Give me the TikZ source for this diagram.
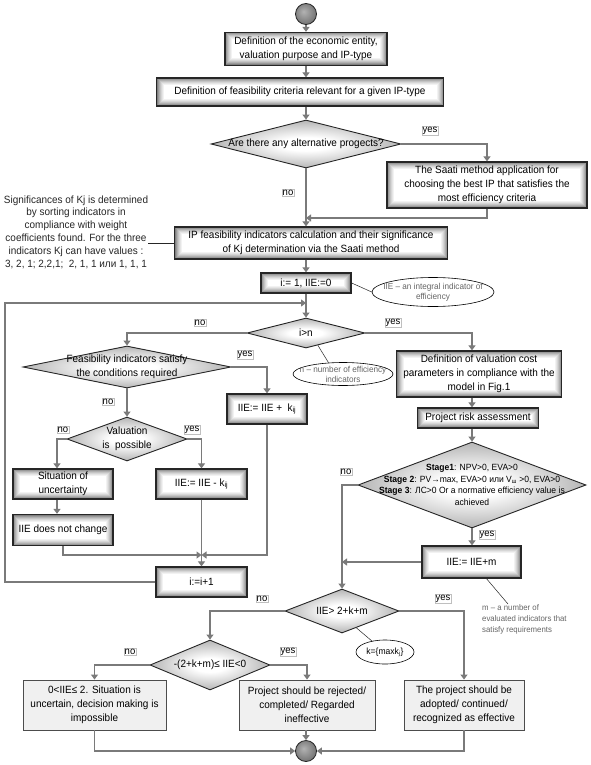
\documentclass[tikz,border=0pt]{standalone}
\usepackage{fontspec}
\setmainfont[FakeStretch=0.95]{Liberation Sans}
\usetikzlibrary{shapes.geometric,arrows.meta,calc}
\pgfdeclareradialshading{dglow}{\pgfpoint{0bp}{0bp}}{color(0bp)=(white); color(7bp)=(white); color(35bp)=(black!45); color(50bp)=(black!55)}
\pgfdeclareradialshading{cglow}{\pgfpoint{-6bp}{6bp}}{color(0bp)=(black!30); color(28bp)=(black!55); color(50bp)=(black!78)}
\begin{document}
\begin{tikzpicture}[x=1pt,y=-1pt,
  every node/.style={font=\fontsize{10.5}{14}\selectfont},
  conn/.style={draw=black!52, line width=1.7pt, -{Triangle[width=7pt,length=5pt]}},
  notel/.style={draw=black!85, line width=0.5pt},
  glowbox/.style={rectangle, draw=black!85, line width=1.3pt, inner sep=1pt, align=center,
    path picture={\foreach \d/\c in {0/50,1/40,2/31,3/23,4/16,5/10,6/5,7/0}{%
      \fill[black!\c] ([shift={(\d pt,\d pt)}]path picture bounding box.south west) rectangle ([shift={(-\d pt,-\d pt)}]path picture bounding box.north east);}}},
  pbox/.style={rectangle, draw=black!70, line width=0.9pt, fill=black!6, align=center, inner sep=1pt},
  dia/.style={diamond, draw=black!85, line width=0.9pt, shade, shading=dglow, inner sep=0pt},
  dtext/.style={align=center, inner sep=0pt},
  ell/.style={ellipse, draw=black, line width=0.6pt, fill=white, inner sep=0pt, align=center, text=black!60},
  elltext/.style={font=\fontsize{8.6}{10}\selectfont},
  lbl/.style={draw=black!25, line width=0.4pt, fill=white, inner sep=0.8pt, font=\fontsize{10}{11}\selectfont},
  notet/.style={align=center, inner sep=0pt, text=black!85, font=\fontsize{10.5}{12.8}\selectfont},
  roundc/.style={circle, minimum size=21pt, inner sep=0pt, draw=black!85, line width=0.8pt, shade, shading=cglow}
]
\path[use as bounding box, fill=white] (0,0) rectangle (590,765);

% nodes
\node[roundc] (start) at (306,14) {};
\node[glowbox, minimum width=162pt, minimum height=33pt] (b1) at (306,49) {Definition of the economic entity,\\valuation purpose and IP-type};
\node[glowbox, minimum width=287pt, minimum height=28pt] (b2) at (300,92) {Definition of feasibility criteria relevant for a given IP-type};
\node[dia, minimum width=190pt, minimum height=48pt] (d1) at (306,144) {};
\node[dtext] (d1t) at (d1) {Are there any alternative progects?};
\node[glowbox, minimum width=200pt, minimum height=46pt] (saati) at (487,185) {The Saati method application for\\choosing the best IP that satisfies the\\most efficiency criteria};
\node[glowbox, minimum width=273pt, minimum height=32pt] (ip) at (311,243) {IP feasibility indicators calculation and their significance\\of Kj determination via the Saati method};
\node[notet] (note) at (76,232) {Significances of Kj is determined\\by sorting indicators in\\compliance with weight\\coefficients found. For the three\\indicators Kj can have values :\\3, 2, 1; 2,2,1;~ 2, 1, 1 или 1, 1, 1};
\node[glowbox, minimum width=90pt, minimum height=20pt] (i1) at (306,283) {i:= 1, IIE:=0};
\node[ell, minimum width=122pt, minimum height=29pt] (e1) at (433,292) {};
\node[elltext, align=center, text=black!60, inner sep=0pt] (e1t) at (e1) {IIE – an integral indicator of\\efficiency};
\node[dia, minimum width=118pt, minimum height=30pt] (d2) at (306,333) {};
\node[dtext] (d2t) at (d2) {i>n};
\node[ell, minimum width=100pt, minimum height=23pt] (e2) at (343,374) {};
\node[elltext, align=center, text=black!60, inner sep=0pt] (e2t) at (e2) {n – number of efficiency\\indicators};
\node[dia, minimum width=208pt, minimum height=42pt] (d3) at (127,367) {};
\node[dtext] (d3t) at (d3) {Feasibility indicators satisfy\\the conditions required};
\node[glowbox, minimum width=80pt, minimum height=30pt] (bpk) at (267,409) {IIE:= IIE +~~k\textsubscript{ij}};
\node[dia, minimum width=120pt, minimum height=44pt] (d4) at (127,439) {};
\node[dtext] (d4t) at (d4) {Valuation\\is~~possible};
\node[glowbox, minimum width=100pt, minimum height=30pt] (sit) at (63,484) {Situation of\\uncertainty};
\node[glowbox, minimum width=91pt, minimum height=30pt] (bmk) at (201.5,484) {IIE:= IIE - k\textsubscript{ij}};
\node[glowbox, minimum width=100pt, minimum height=31pt] (nochg) at (63,530) {IIE does not change};
\node[glowbox, minimum width=91pt, minimum height=30pt] (inc) at (201.5,582) {i:=i+1};
\node[glowbox, minimum width=165pt, minimum height=46pt] (val) at (479,374) {Definition of valuation cost\\parameters in compliance with the\\model in Fig.1};
\node[glowbox, minimum width=121pt, minimum height=20pt] (risk) at (478,418) {Project risk assessment};
\node[dia, minimum width=228pt, minimum height=86pt] (ds) at (472,485) {};
\node[dtext, font=\fontsize{9}{11.5}\selectfont] (dst) at (ds) {\textbf{Stage1}: NPV>0, EVA>0\\\textbf{Stage 2}: PV→max, EVA>0 или V\textsubscript{ш} >0, EVA>0\\\textbf{Stage 3}: ЛС>0 Or a normative efficiency value is\\achieved};
\node[glowbox, minimum width=99pt, minimum height=32pt] (m) at (471.5,562) {IIE:= IIE+m};
\node[dia, minimum width=114pt, minimum height=44pt] (d5) at (342,611) {};
\node[dtext] (d5t) at (d5) {IIE> 2+k+m};
\node[ell, minimum width=58pt, minimum height=24pt, font=\fontsize{9}{10}\selectfont, text=black] (e3) at (385,652) {k=\{maxk\textsubscript{j}\}};
\node[align=left, inner sep=0pt, anchor=north west, text=black!60, font=\fontsize{8.2}{11}\selectfont] (mnote) at (482,604) {m – a number of\\evaluated indicators that\\satisfy requirements};
\node[dia, minimum width=120pt, minimum height=50pt] (d6) at (210,665) {};
\node[dtext] (d6t) at (d6) {-(2+k+m)≤ IIE<0};
\node[pbox, minimum width=143pt, minimum height=50pt] (bl) at (94.5,705) {0<IIE≤ 2. Situation is\\uncertain, decision making is\\impossible};
\node[pbox, minimum width=136pt, minimum height=50pt] (bm) at (307,705) {Project should be rejected/\\completed/ Regarded\\ineffective};
\node[pbox, minimum width=120pt, minimum height=50pt] (br) at (464,705) {The project should be\\adopted/ continued/\\recognized as effective};
\node[roundc] (fin) at (306,751) {};

% labels
\node[lbl] (y1) at (430,131) {yes};
\node[lbl] (n1) at (288,193) {no};
\node[lbl] (n2) at (200,323) {no};
\node[lbl] (y2) at (393,323) {yes};
\node[lbl] (y3) at (245,355) {yes};
\node[lbl] (n3) at (108,402) {no};
\node[lbl] (n4) at (63,430) {no};
\node[lbl] (y4) at (192,430) {yes};
\node[lbl] (n5) at (346,472) {no};
\node[lbl] (y5) at (487,535) {yes};
\node[lbl] (n6) at (262,599) {no};
\node[lbl] (y6) at (443,599) {yes};
\node[lbl] (n7) at (130,652) {no};
\node[lbl] (y7) at (288,652) {yes};

% coordinates
\coordinate (j1) at (306,218);
\coordinate (lp) at (5,303);
\coordinate (lpe) at (306,303);
\coordinate (mrg) at (201.5,555);

% connectors
\draw[conn] (start.south) -- (b1.north);
\draw[conn] (b1.south) -- (b1.south |- b2.north);
\draw[conn] (b2.south -| d1.north) -- (d1.north);
\draw[conn] (d1.east) -| (saati.north);
\draw[conn] (d1.south) -- (d1.south |- ip.north);
\draw[conn] (saati.south) |- (j1);
\draw[notel] (ip.west) -- (ip.west -| note.east);
\draw[conn] (ip.south -| i1.north) -- (i1.north);
\draw[notel] (i1.east) -- (e1.west);
\draw[conn] (i1.south) -- (d2.north);
\draw[conn] (inc.west) -- (inc.west -| lp) -- (lp) -- (lpe);
\draw[conn] (d2.west) -| (d3.north);
\draw[conn] (d2.east) -| (val.north -| ds.north);
\draw[notel] ($(d2.south)!0.2!(d2.east)$) -- (e2.142);
\draw[conn] (d3.east) -| (bpk.north);
\draw[conn] (d3.south) -- (d4.north);
\draw[conn] (d4.west) -| ([xshift=-6pt]sit.north);
\draw[conn] (d4.east) -| (bmk.north);
\draw[conn] ([xshift=-6pt]sit.south) -- ([xshift=-6pt]nochg.north);
\draw[conn] (nochg.south) |- (mrg);
\draw[conn] (bpk.south) |- (mrg);
\draw[conn] (bmk.south) -- (inc.north);
\draw[conn] (val.south -| ds.north) -- (risk.north -| ds.north);
\draw[conn] (risk.south -| ds.north) -- (ds.north);
\draw[conn] (ds.south) -- (m.north -| ds.south);
\draw[conn] (ds.west) -| (d5.north);
\draw[conn] (m.west) -- (m.west -| d5.north);
\draw[notel] ([xshift=15pt]m.south) -- ([xshift=26pt]mnote.north west);
\draw[conn] (d5.west) -| (d6.north);
\draw[conn] (d5.east) -| (br.north);
\draw[notel] ($(d5.south)!0.25!(d5.east)$) -- (e3.140);
\draw[conn] (d6.west) -| (bl.north);
\draw[conn] (d6.east) -| (bm.north);
\draw[conn] (bl.south) |- (fin.west);
\draw[conn] (bm.south -| fin.north) -- (fin.north);
\draw[conn] (br.south) |- (fin.east);
\end{tikzpicture}
\end{document}
